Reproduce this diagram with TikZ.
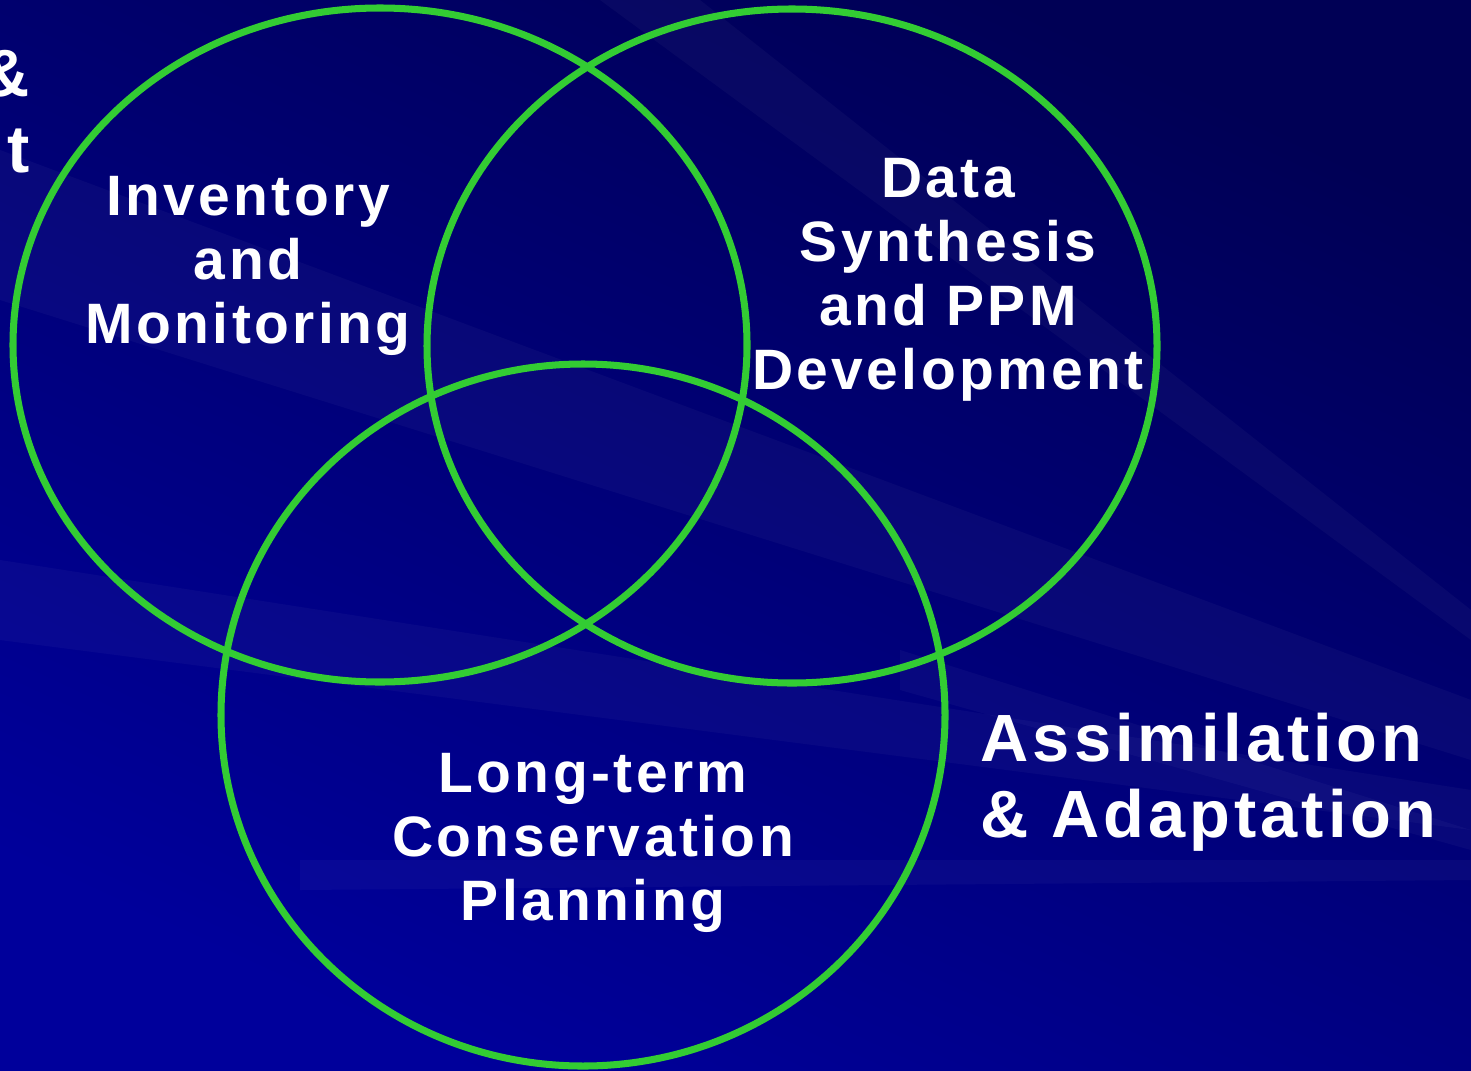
\documentclass[tikz,border=0pt]{standalone}
\usepackage{fontspec}
\setmainfont{Liberation Sans}
\newfontfamily\labelfont[LetterSpace=6]{Liberation Sans}
\usetikzlibrary{positioning}
\definecolor{ringgreen}{RGB}{51,204,51}
\definecolor{bgdark}{RGB}{0,0,85}
\definecolor{bglight}{RGB}{0,0,155}
\tikzset{
    ring/.style={
    draw=ringgreen,line width=2pt
    },
    area/.style={
    text=white,align=center,inner sep=0pt,
    font=\labelfont\bfseries\fontsize{16.2}{18.2}\selectfont
    },
    side/.style={
    text=white,align=left,inner sep=0pt,
    font=\labelfont\bfseries\fontsize{19}{21.6}\selectfont
    },
    ray/.style={
    fill=white,opacity=0.03
    },
}
\begin{document}
\begin{tikzpicture}[x=0.01cm, y=-0.01cm]
  \useasboundingbox (0,0) rectangle (1471,1070);
  % background
  \shade[top color=bgdark, bottom color=bglight, shading angle=-25] (0,0) rectangle (1471,1070);
  \fill[ray] (1471,700) -- (0,150) -- (0,300) -- (1471,760) -- cycle;
  \fill[ray] (1471,790) -- (0,560) -- (0,640) -- (1471,830) -- cycle;
  \fill[ray] (1471,830) -- (900,650) -- (900,690) -- (1471,850) -- cycle;
  \fill[ray] (1471,860) -- (300,860) -- (300,890) -- (1471,880) -- cycle;
  \fill[ray] (1471,640) -- (600,0) -- (700,0) -- (1471,610) -- cycle;

  % the three rings
  \draw[ring] (380,345) ellipse (367 and 337);
  \draw[ring] (792,346) ellipse (365 and 337);
  \draw[ring] (583,715) ellipse (362 and 351);

  % labels
  \node[area] (inv) at (248,266) {Inventory\\and\\Monitoring};
  \node[area] (syn) at (948,280) {Data\\Synthesis\\and PPM\\Development};
  \node[area] (plan) at (593,843) {Long-term\\Conservation\\Planning};
  \node[side, anchor=west] (adapt) at (980,782) {Assimilation\\\& Adaptation};
  \node[side, align=right, anchor=east] (cut) at (30,112) {\&\\t};
\end{tikzpicture}
\end{document}
